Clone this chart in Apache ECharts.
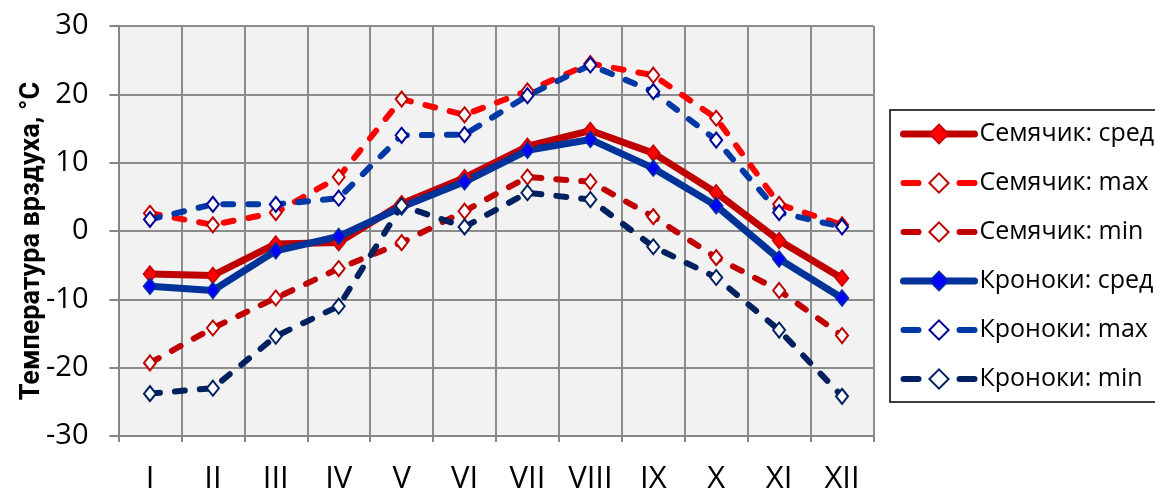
<!DOCTYPE html>
<html>
<head>
<meta charset="utf-8">
<script src="https://cdn.jsdelivr.net/npm/echarts@6/dist/echarts.min.js"></script>
<style>
  html, body { margin: 0; padding: 0; background: #ffffff; }
  #chart { width: 1155px; height: 491px; }
</style>
</head>
<body>
<div id="chart"></div>
<script>
// Monthly air temperature, °C
const months = ['I', 'II', 'III', 'IV', 'V', 'VI', 'VII', 'VIII', 'IX', 'X', 'XI', 'XII'];

const semMean = [-6.3, -6.5, -1.9, -1.7, 4.0, 7.8, 12.4, 14.7, 11.4, 5.6, -1.4, -6.9];
const semMax  = [2.6, 0.9, 2.7, 7.9, 19.3, 17.0, 20.5, 24.5, 22.8, 16.5, 3.9, 0.9];
const semMin  = [-19.3, -14.2, -9.8, -5.5, -1.7, 2.9, 7.9, 7.2, 2.1, -3.9, -8.7, -15.3];
const kroMean = [-8.1, -8.7, -2.9, -0.8, 3.5, 7.2, 11.8, 13.4, 9.2, 3.7, -4.1, -9.8];
const kroMax  = [1.7, 3.9, 3.9, 4.8, 14.0, 14.1, 19.8, 24.3, 20.4, 13.3, 2.7, 0.6];
const kroMin  = [-23.8, -23.0, -15.4, -11.0, 3.7, 0.6, 5.6, 4.6, -2.3, -6.8, -14.5, -24.2];

const yTicks = { min: -30, max: 30, step: 10 };

const names = ['Семячик: средняя', 'Семячик: max', 'Семячик: min',
               'Кроноки: средняя', 'Кроноки: max', 'Кроноки: min'];

const textFont = 'Open Sans, Roboto, sans-serif';
const dash = [10, 15];
const legendDash = [15, 41];

const styles = [
  { line: '#c00000', fill: '#ff0000', border: '#c00000', solid: true },
  { line: '#ff0000', fill: '#ffffff', border: '#c00000', solid: false },
  { line: '#c00000', fill: '#ffffff', border: '#c00000', solid: false },
  { line: '#003399', fill: '#0000ff', border: '#003399', solid: true },
  { line: '#0039a6', fill: '#ffffff', border: '#000099', solid: false },
  { line: '#002060', fill: '#ffffff', border: '#002060', solid: false }
];
const values = [semMean, semMax, semMin, kroMean, kroMax, kroMin];

const series = names.map((name, i) => {
  const s = styles[i];
  return {
    name, type: 'line', data: values[i],
    symbol: 'diamond',
    symbolSize: s.solid ? [13, 16] : [12, 15],
    lineStyle: {
      color: s.line, width: s.solid ? 7 : 6,
      type: s.solid ? 'solid' : dash, cap: 'round', join: 'round'
    },
    itemStyle: { color: s.fill, borderColor: s.border, borderWidth: s.solid ? 1.5 : 2 },
    emphasis: { disabled: true },
    animation: false
  };
});

const legendData = names.map((name, i) => {
  const s = styles[i];
  return {
    name,
    lineStyle: {
      color: s.line, width: s.solid ? 7 : 6,
      type: s.solid ? 'solid' : legendDash, cap: 'round'
    },
    itemStyle: { color: s.fill, borderColor: s.border, borderWidth: s.solid ? 1.5 : 2 }
  };
});

const chart = echarts.init(document.getElementById('chart'), null, { renderer: 'canvas' });

chart.setOption({
  backgroundColor: '#ffffff',
  animation: false,
  grid: {
    left: 118.5, right: 281.5, top: 26, bottom: 55,
    outerBoundsMode: 'none',
    containLabel: false,
    show: true, backgroundColor: '#f2f2f2', borderWidth: 0
  },
  legend: {
    orient: 'vertical',
    left: 890, top: 110,
    padding: [9, 40, 8, 10],
    itemWidth: 71, itemHeight: 24,
    itemGap: 19,
    backgroundColor: '#ffffff',
    borderColor: '#000000', borderWidth: 1.5,
    textStyle: { fontFamily: textFont, fontSize: 25, color: '#000000', lineHeight: 30 },
    data: legendData
  },
  graphic: [{
    type: 'text',
    x: 32, y: 241,
    rotation: Math.PI / 2,
    style: {
      text: 'Температура врздуха, °С',
      fontFamily: 'Roboto, sans-serif', fontWeight: 'bold', fontSize: 27,
      fill: '#000000', align: 'center', verticalAlign: 'middle'
    }
  }],
  xAxis: {
    type: 'category',
    data: months,
    boundaryGap: true,
    axisLine: { show: true, onZero: false, lineStyle: { color: '#868686', width: 2 } },
    axisTick: { show: true, length: 6, lineStyle: { color: '#868686', width: 2 } },
    splitLine: { show: true, lineStyle: { color: '#8c8c8c', width: 2 } },
    axisLabel: { fontFamily: textFont, fontSize: 31, color: '#000000', margin: 28 }
  },
  yAxis: {
    type: 'value',
    min: yTicks.min, max: yTicks.max, interval: yTicks.step,
    axisLine: { show: true, lineStyle: { color: '#868686', width: 2 } },
    axisTick: { show: true, inside: false, length: 9, lineStyle: { color: '#868686', width: 2 } },
    splitLine: { show: true, lineStyle: { color: '#8c8c8c', width: 2 } },
    axisLabel: { fontFamily: textFont, fontSize: 29, color: '#000000', margin: 30 }
  },
  series
});
</script>
</body>
</html>
